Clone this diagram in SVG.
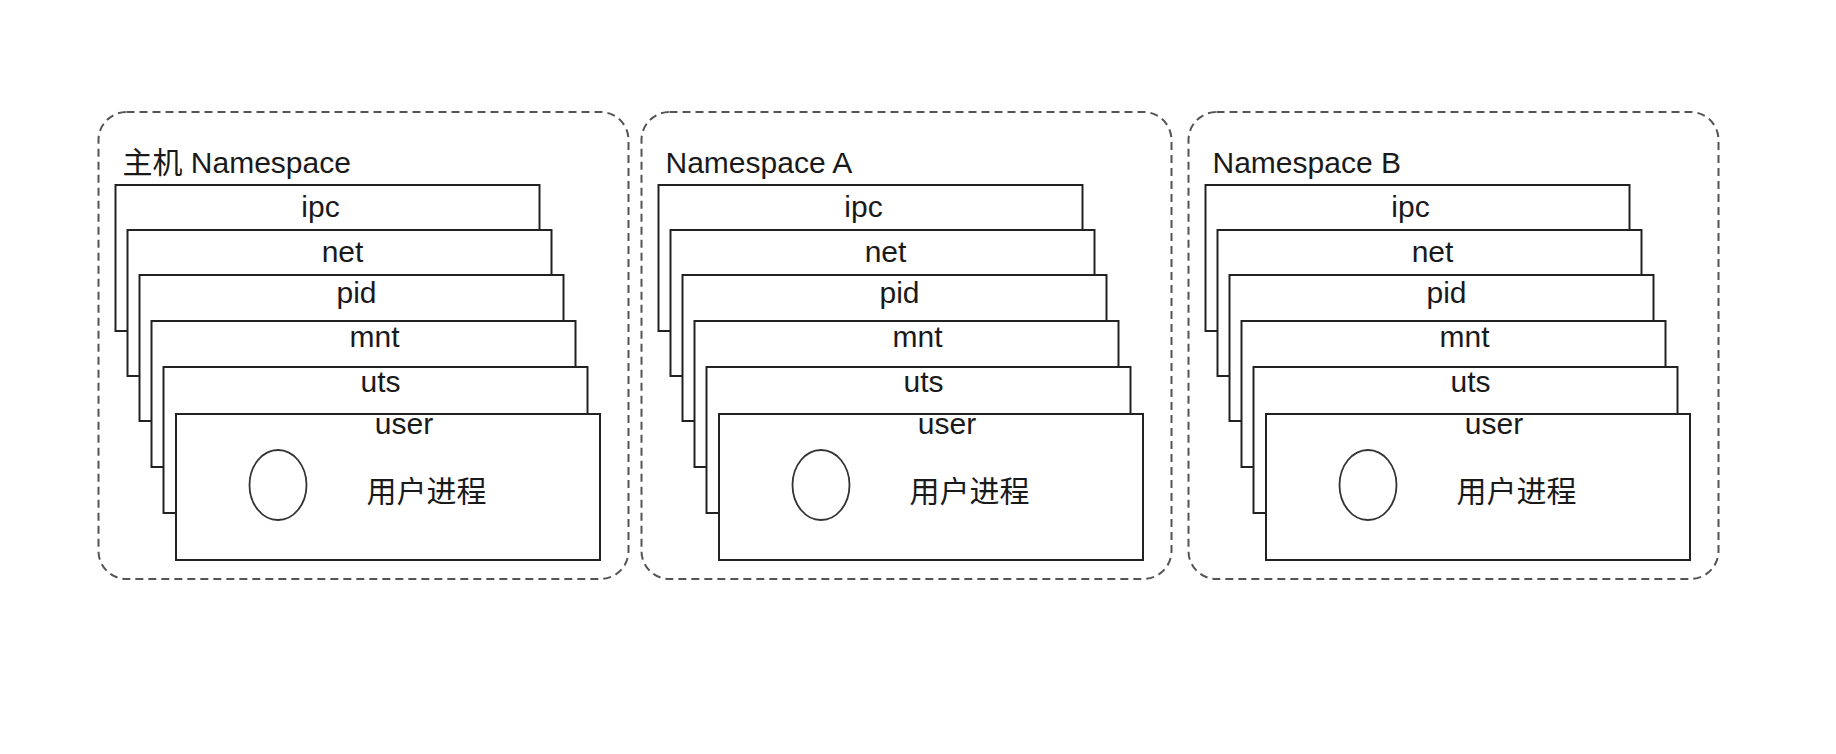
<svg xmlns="http://www.w3.org/2000/svg" width="1836" height="754" viewBox="0 0 1836 754">
<style>
.ns{fill:#fff;stroke:#555;stroke-width:2;stroke-dasharray:8 5}
.ly{fill:#fff;stroke:#222;stroke-width:2}
.t{font-family:"Liberation Sans","Noto Sans CJK SC",sans-serif;font-size:30px;fill:#1a1a1a}
.c{text-anchor:middle}
.p{fill:#fff;stroke:#333;stroke-width:1.8}
</style>
<rect width="1836" height="754" fill="#fff"/>
<defs>
<g id="layers">
<g><rect class="ly" x="17" y="185" width="424" height="146"/><text class="t c" x="222" y="217">ipc</text></g>
<g><rect class="ly" x="29" y="230" width="424" height="146"/><text class="t c" x="244" y="262">net</text></g>
<g><rect class="ly" x="41" y="275" width="424" height="146"/><text class="t c" x="258" y="303">pid</text></g>
<g><rect class="ly" x="53" y="321" width="424" height="146"/><text class="t c" x="276" y="347">mnt</text></g>
<g><rect class="ly" x="65" y="367" width="424" height="146"/><text class="t c" x="282" y="392">uts</text></g>
<g><rect class="ly" x="77.5" y="414" width="424" height="146"/><text class="t c" x="305.5" y="434">user</text>
<ellipse class="p" cx="179.5" cy="485" rx="28.5" ry="35"/>
<text class="t" x="268" y="502">用户进程</text></g>
</g>
</defs>
<g id="ns-host" transform="translate(98.5,0)">
<rect class="ns" x="0" y="112" width="530" height="467" rx="28"/>
<text class="t" x="24" y="173">主机 Namespace</text>
<use href="#layers"/>
</g>
<g id="ns-a" transform="translate(641.5,0)">
<rect class="ns" x="0" y="112" width="530" height="467" rx="28"/>
<text class="t" x="24" y="173">Namespace A</text>
<use href="#layers"/>
</g>
<g id="ns-b" transform="translate(1188.5,0)">
<rect class="ns" x="0" y="112" width="530" height="467" rx="28"/>
<text class="t" x="24" y="173">Namespace B</text>
<use href="#layers"/>
</g>
</svg>
